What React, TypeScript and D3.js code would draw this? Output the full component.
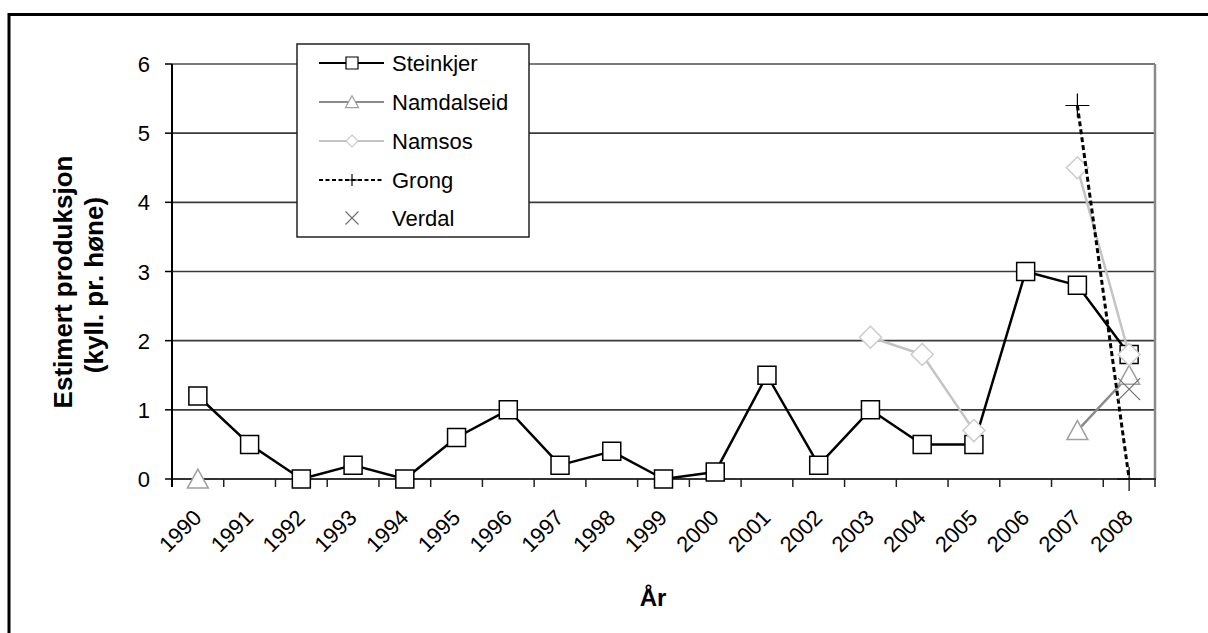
import React from 'react';
import * as d3 from 'd3';

const years = ['1990','1991','1992','1993','1994','1995','1996','1997','1998','1999','2000','2001','2002','2003','2004','2005','2006','2007','2008'];
const N = null;
const steinkjer = [1.2,0.5,0,0.2,0,0.6,1.0,0.2,0.4,0,0.1,1.5,0.2,1.0,0.5,0.5,3.0,2.8,1.8];
const namdalseid = [0,N,N,N,N,N,N,N,N,N,N,N,N,N,N,N,N,0.7,1.5];
const namsos = [N,N,N,N,N,N,N,N,N,N,N,N,N,2.05,1.8,0.7,N,4.5,1.8];
const grong = [N,N,N,N,N,N,N,N,N,N,N,N,N,N,N,N,N,5.4,0];
const verdal = [N,N,N,N,N,N,N,N,N,N,N,N,N,N,N,N,N,N,1.3];
const yTicks = [0,1,2,3,4,5,6];
const seriesNames = ['Steinkjer','Namdalseid','Namsos','Grong','Verdal'];

const FONT = '"Liberation Sans", Arial, sans-serif';

type MarkerKind = 'square' | 'triangle' | 'diamond' | 'plus' | 'x';

function markerPath(kind: MarkerKind, s: number): string {
  switch (kind) {
    case 'square': return `M${-s},${-s}H${s}V${s}H${-s}Z`;
    case 'triangle': return `M0,${-s * 1.05}L${s * 1.1},${s * 0.95}L${-s * 1.1},${s * 0.95}Z`;
    case 'diamond': return `M0,${-s}L${s},0L0,${s}L${-s},0Z`;
    case 'plus': return `M${-s},0H${s}M0,${-s}V${s}`;
    case 'x': return `M${-s},${-s}L${s},${s}M${s},${-s}L${-s},${s}`;
  }
}

const styles = [
  { data: steinkjer, line: '#000', lw: 2.5, dash: undefined as string | undefined, marker: 'square' as MarkerKind, mStroke: '#000', mFill: '#fff', mw: 1.5, ms: 9, showLine: true },
  { data: namdalseid, line: '#8a8a8a', lw: 2.5, dash: undefined, marker: 'triangle' as MarkerKind, mStroke: '#a0a0a0', mFill: '#fff', mw: 1.5, ms: 9.5, showLine: true },
  { data: namsos, line: '#c4c4c4', lw: 2.5, dash: undefined, marker: 'diamond' as MarkerKind, mStroke: '#cccccc', mFill: '#fff', mw: 1.5, ms: 11, showLine: true },
  { data: grong, line: '#000', lw: 3, dash: '5,3', marker: 'plus' as MarkerKind, mStroke: '#000', mFill: 'none', mw: 1.2, ms: 12, showLine: true },
  { data: verdal, line: 'none', lw: 0, dash: undefined, marker: 'x' as MarkerKind, mStroke: '#707070', mFill: 'none', mw: 1.2, ms: 11, showLine: false },
];

export default function App() {
  const W = 1208, H = 633;
  const left = 172, right = 1155, top = 64, bottom = 479;
  const x = d3.scaleBand<string>().domain(years).range([left, right]).paddingInner(0).paddingOuter(0);
  const bw = x.bandwidth();
  const cx = (i: number) => (x(years[i]) as number) + bw / 2;
  const y = d3.scaleLinear().domain([0, 6]).range([bottom, top]);

  const lineGen = d3.line<number | null>()
    .defined(v => v != null)
    .x((_, i) => cx(i))
    .y(v => y(v as number));

  const legendX = 297, legendY = 44, legendW = 232, legendH = 193;
  const rowY = [63, 102, 141, 180, 218];

  return (
    <svg width={W} height={H} style={{ position: 'absolute', left: 0, top: 0, background: '#fff' }} fontFamily={FONT}>
      <rect x={0} y={0} width={W} height={H} fill="#fff" />
      {/* outer chart border */}
      <rect x={9} y={14.5} width={1400} height={900} fill="none" stroke="#000" strokeWidth={3} />

      {/* gridlines */}
      {yTicks.map(t => (
        <line key={'g' + t} x1={left} x2={right} y1={y(t)} y2={y(t)} stroke="#3a3a3a" strokeWidth={1.6} />
      ))}
      {/* plot border top/right */}
      <line x1={left} x2={right} y1={top} y2={top} stroke="#7a7a7a" strokeWidth={2} />
      <line x1={right} x2={right} y1={top} y2={bottom} stroke="#8a8a8a" strokeWidth={2.5} />

      {/* x axis */}
      <line x1={left} x2={right + 1} y1={bottom} y2={bottom} stroke="#333" strokeWidth={2} />
      {d3.range(years.length + 1).map(k => {
        const xx = left + k * bw;
        return <line key={'xt' + k} x1={xx} x2={xx} y1={bottom} y2={bottom + 8} stroke="#222" strokeWidth={1.5} />;
      })}
      {years.map((yr, i) => (
        <text key={'xl' + yr} transform={`translate(${cx(i) + 5},${519}) rotate(-45)`} textAnchor="end" fontSize={22} fill="#000">{yr}</text>
      ))}

      {/* y axis */}
      <line x1={left} x2={left} y1={top} y2={bottom + 8} stroke="#000" strokeWidth={2} />
      {yTicks.map(t => (
        <g key={'yt' + t}>
          <line x1={left - 7} x2={left} y1={y(t)} y2={y(t)} stroke="#000" strokeWidth={1.5} />
          <text x={150} y={y(t) + 8} textAnchor="end" fontSize={22} fill="#000">{t}</text>
        </g>
      ))}

      {/* axis titles */}
      <text transform={`translate(${72},${282}) rotate(-90)`} textAnchor="middle" fontSize={26} fontWeight="bold">Estimert produksjon</text>
      <text transform={`translate(${103},${285}) rotate(-90)`} textAnchor="middle" fontSize={26} fontWeight="bold">(kyll. pr. høne)</text>
      <text x={653} y={606} textAnchor="middle" fontSize={24} fontWeight="bold">År</text>

      {/* series */}
      {styles.map((s, si) => (
        <g key={'s' + si}>
          {s.showLine && (
            <path d={lineGen(s.data) || ''} fill="none" stroke={s.line} strokeWidth={s.lw} strokeDasharray={s.dash} strokeLinejoin="round" />
          )}
          {s.data.map((v, i) => v == null ? null : (
            <path key={i} transform={`translate(${cx(i)},${y(v)})`} d={markerPath(s.marker, s.ms)} fill={s.mFill} stroke={s.mStroke} strokeWidth={s.mw} />
          ))}
        </g>
      ))}

      {/* legend */}
      <rect x={legendX} y={legendY} width={legendW} height={legendH} fill="#fff" stroke="#222" strokeWidth={1.5} />
      {styles.map((s, si) => (
        <g key={'lg' + si}>
          {s.showLine && (
            <line x1={319} x2={384} y1={rowY[si]} y2={rowY[si]} stroke={s.line} strokeWidth={2} strokeDasharray={s.dash ? '4,2.5' : undefined} />
          )}
          <path transform={`translate(${352},${rowY[si]})`} d={markerPath(s.marker, si === 4 ? 6.5 : 6)} fill={s.mFill} stroke={s.mStroke} strokeWidth={1.2} />
          <text x={392} y={rowY[si] + 8} fontSize={22} fill="#000">{seriesNames[si]}</text>
        </g>
      ))}
    </svg>
  );
}
